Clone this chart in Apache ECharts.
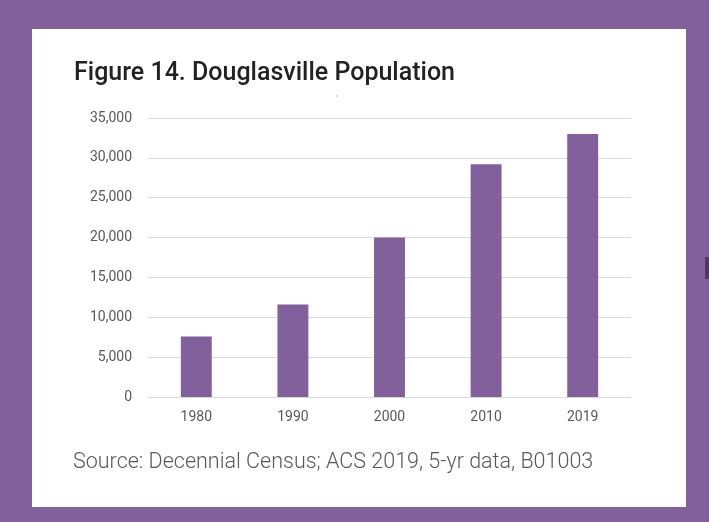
<!DOCTYPE html>
<html>
<head>
<meta charset="utf-8">
<style>
  html, body { margin: 0; padding: 0; background: #ffffff; }
  #chart { width: 709px; height: 522px; }
</style>
<script src="https://cdn.jsdelivr.net/npm/echarts@6/dist/echarts.min.js"></script>
</head>
<body>
<div id="chart"></div>
<script>
// Douglasville population by census year
const years = ['1980', '1990', '2000', '2010', '2019'];
const population = [7600, 11600, 20000, 29200, 33000];
const yTicks = { min: 0, max: 35000, step: 5000 };

const titleText = 'Figure 14. Douglasville Population';
const sourceText = 'Source: Decennial Census; ACS 2019, 5-yr data, B01003';

const purple = '#82609C';
const labelGray = '#595959';
const gridGray = '#d9d9d9';

const chart = echarts.init(document.getElementById('chart'), null, { renderer: 'canvas' });

chart.setOption({
  backgroundColor: purple,
  animation: false,
  graphic: [
    // white card inside the purple frame
    { type: 'rect', z: -10, shape: { x: 32, y: 29, width: 654, height: 478 }, style: { fill: '#ffffff' } },
    // small dark tab on the right edge
    { type: 'rect', z: -10, shape: { x: 705, y: 257, width: 4, height: 22 }, style: { fill: '#4f3862' } },
    // stray speck under the heading
    { type: 'circle', z: -5, shape: { cx: 337, cy: 96, r: 0.7 }, style: { fill: '#9a9a9a' } },
    {
      type: 'text', left: 74, top: 61,
      style: { text: titleText, fill: '#222222', font: '500 25px Roboto' }
    },
    {
      type: 'text', left: 73, top: 452,
      style: { text: sourceText, fill: labelGray, font: '300 21.5px Roboto' }
    }
  ],
  grid: { left: 148, right: 78, top: 118, bottom: 125 },
  xAxis: {
    type: 'category',
    data: years,
    axisLine: { lineStyle: { color: gridGray, width: 1 } },
    axisTick: { show: false },
    axisLabel: { color: labelGray, fontFamily: 'Roboto', fontSize: 14, margin: 13 }
  },
  yAxis: {
    type: 'value',
    min: yTicks.min,
    max: yTicks.max,
    interval: yTicks.step,
    axisLine: { show: false },
    axisTick: { show: false },
    splitLine: { lineStyle: { color: gridGray, width: 1 } },
    axisLabel: {
      color: labelGray, fontFamily: 'Roboto', fontSize: 14, margin: 16,
      formatter: v => v.toLocaleString('en-US')
    }
  },
  series: [{
    type: 'bar',
    data: population,
    barWidth: '32%',
    itemStyle: { color: purple }
  }]
});
</script>
</body>
</html>
